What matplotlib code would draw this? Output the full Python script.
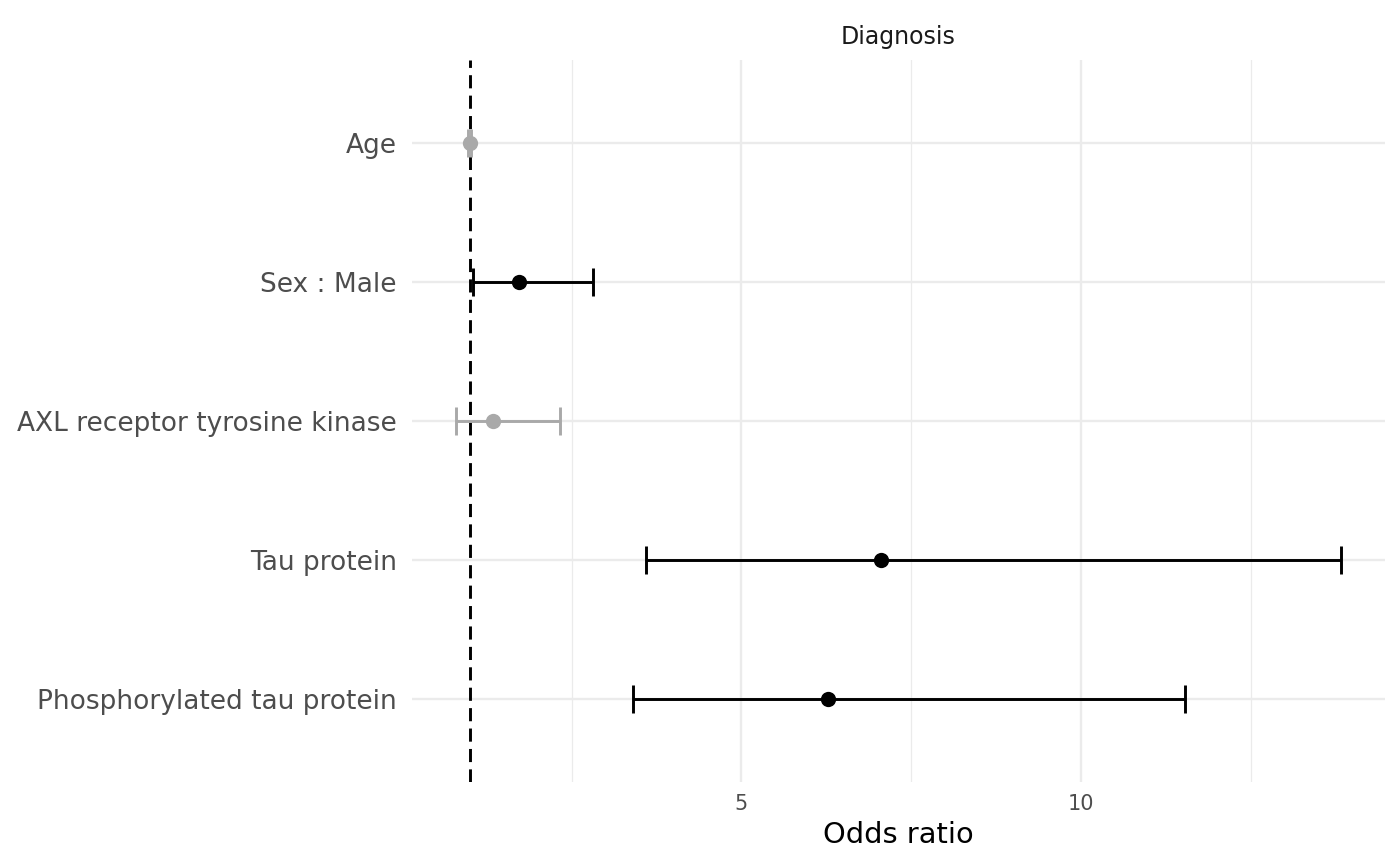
import matplotlib
matplotlib.use("Agg")
import matplotlib.pyplot as plt
from matplotlib.ticker import MultipleLocator

# Data
terms = ["Age", "Sex : Male", "AXL receptor tyrosine kinase", "Tau protein",
         "Phosphorylated tau protein"]
odds = [1.00, 1.73, 1.34, 7.05, 6.27]
ci_low = [0.98, 1.05, 0.80, 3.60, 3.41]
ci_high = [1.02, 2.82, 2.33, 13.83, 11.53]
significant = [False, True, False, True, True]
panel_title = "Diagnosis"
x_label = "Odds ratio"

fig = plt.figure(figsize=(14, 8.66), dpi=100)
ax = fig.add_axes([0.2943, 0.0970, 0.9893 - 0.2943, 0.9312 - 0.0970])

n = len(terms)
ypos = list(range(n, 0, -1))

# grid
ax.set_axisbelow(True)
ax.xaxis.set_major_locator(MultipleLocator(5))
ax.xaxis.set_minor_locator(MultipleLocator(2.5))
ax.grid(which="major", axis="both", color="#EBEBEB", linewidth=1.7)
ax.grid(which="minor", axis="x", color="#EBEBEB", linewidth=0.9)

ax.axvline(1, color="black", linewidth=2.1, linestyle=(0, (4.5, 2.5)), zorder=2)

cap_half = 0.1
for y, o, lo, hi, sig in zip(ypos, odds, ci_low, ci_high, significant):
    c = "black" if sig else "#A9A9A9"
    ax.plot([lo, hi], [y, y], color=c, linewidth=2.1, zorder=3, solid_capstyle="butt")
    for xv in (lo, hi):
        ax.plot([xv, xv], [y - cap_half, y + cap_half], color=c, linewidth=2.1, zorder=3,
                solid_capstyle="butt")
    ax.plot([o], [y], marker="o", markersize=11, color=c, markeredgewidth=0, zorder=4)

xmin = min(ci_low)
xmax = max(ci_high)
rng = xmax - xmin
ax.set_xlim(xmin - 0.05 * rng, xmax + 0.05 * rng)
ax.set_ylim(0.4, n + 0.6)
ax.set_yticks(ypos)
ax.set_yticklabels(terms)

for s in ax.spines.values():
    s.set_visible(False)
ax.tick_params(axis="both", which="both", length=0)
ax.tick_params(axis="y", labelsize=19, labelcolor="#4D4D4D", pad=11)
ax.tick_params(axis="x", labelsize=15, labelcolor="#4D4D4D", pad=9)

fig.text((0.2943 + 0.9893) / 2, 1 - 37 / 866, panel_title, ha="center", va="center",
         fontsize=17, color="#1A1A1A")
fig.text((0.2943 + 0.9893) / 2, 1 - 835 / 866, x_label, ha="center", va="center",
         fontsize=20.8, color="black")

fig.savefig("out.png", dpi=100, facecolor="white")
